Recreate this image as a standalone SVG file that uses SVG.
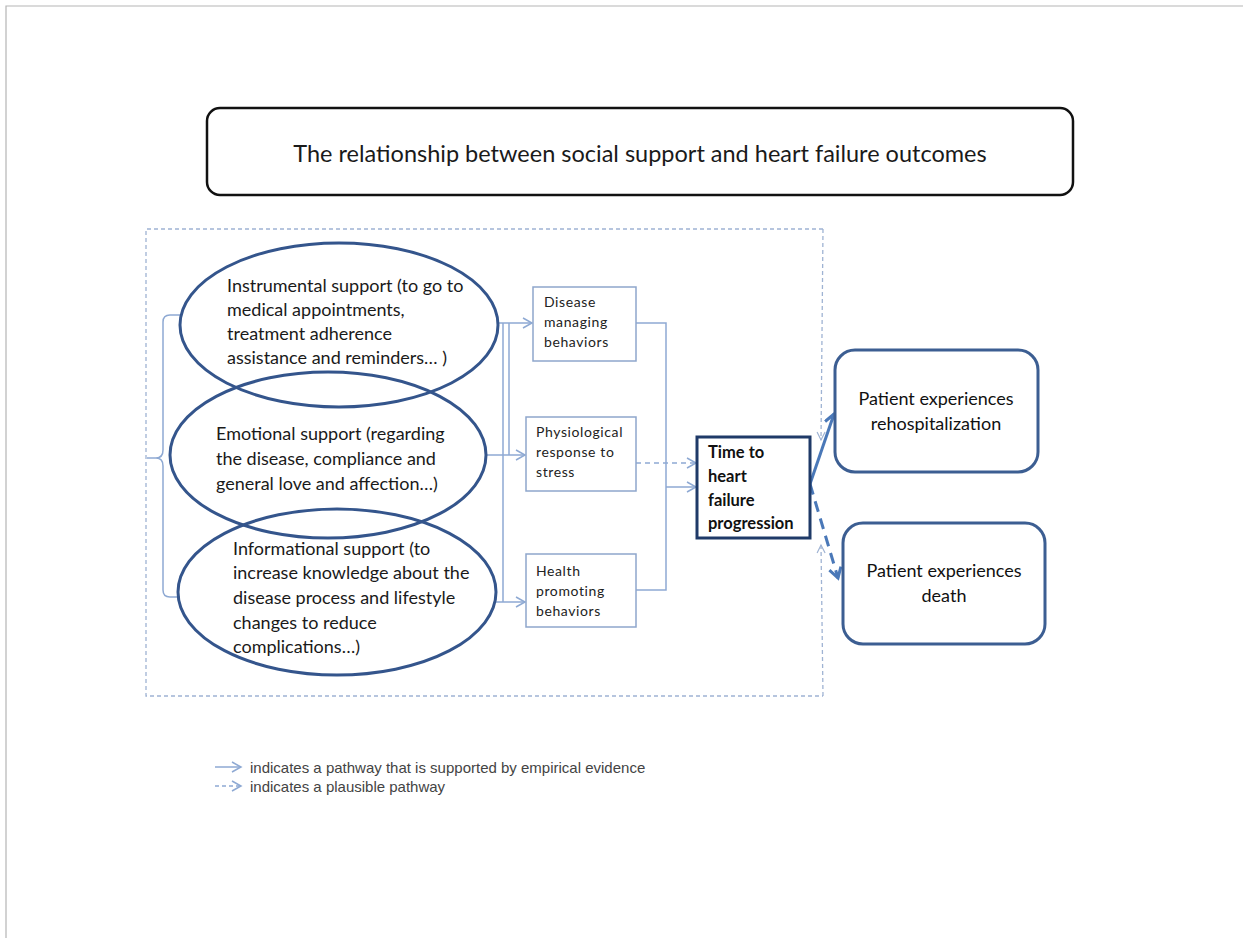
<svg xmlns="http://www.w3.org/2000/svg" width="1243" height="938" viewBox="0 0 1243 938">
  <style>
    .ttl { font-family: Lato, "Liberation Sans", sans-serif; font-size: 23.5px; fill: #1a1a1a; }
    .ell { fill: none; stroke: #34558c; stroke-width: 3; }
    .etx { font-family: Lato, "Liberation Sans", sans-serif; font-size: 18px; fill: #1a1a1a; }
    .box { fill: #ffffff; stroke: #8ea6cc; stroke-width: 1.5; }
    .btx { font-family: Lato, "Liberation Sans", sans-serif; font-size: 14px; fill: #222; letter-spacing: 0.6px; }
    .hub { fill: #ffffff; stroke: #1f3a68; stroke-width: 3; }
    .htx { font-family: Lato, "Liberation Sans", sans-serif; font-size: 16.5px; font-weight: bold; fill: #111; }
    .out { fill: #ffffff; stroke: #3c5e92; stroke-width: 3; }
    .otx { font-family: Lato, "Liberation Sans", sans-serif; font-size: 18px; fill: #111; text-anchor: middle; }
    .thin { fill: none; stroke: #8ea9d3; stroke-width: 1.5; }
    .thin-dash { fill: none; stroke: #8ea9d3; stroke-width: 1.5; stroke-dasharray: 5 4; }
    .frame { fill: none; stroke: #9fb3d3; stroke-width: 1.3; stroke-dasharray: 4 3; }
    .bold { fill: none; stroke: #4a78b8; stroke-width: 3; }
    .bold-dash { fill: none; stroke: #4a78b8; stroke-width: 3; stroke-dasharray: 11 7; }
    .leg { font-family: "Liberation Sans", Arial, sans-serif; font-size: 15px; fill: #444; }
  </style>
  <defs>
    <marker id="arr" markerUnits="userSpaceOnUse" markerWidth="14" markerHeight="14" refX="10" refY="6" orient="auto">
      <path d="M1,1 L10,6 L1,11" fill="none" stroke="#8ea9d3" stroke-width="1.5"/>
    </marker>
    <marker id="arrFrame" markerUnits="userSpaceOnUse" markerWidth="14" markerHeight="14" refX="9" refY="5" orient="auto">
      <path d="M1,1 L9,5 L1,9" fill="none" stroke="#9fb3d3" stroke-width="1.2"/>
    </marker>
    <marker id="arrBold" markerUnits="userSpaceOnUse" markerWidth="16" markerHeight="16" refX="11" refY="7" orient="auto">
      <path d="M1,1 L11,7 L1,13" fill="none" stroke="#4a78b8" stroke-width="3"/>
    </marker>
  </defs>

  <!-- page edge -->
  <path d="M6,938 L6,6 L1243,6" fill="none" stroke="#b5b5b5" stroke-width="1.2"/>

  <!-- heading -->
  <g id="title">
    <rect x="207" y="108" width="866" height="87" rx="13" fill="#fff" stroke="#111" stroke-width="2.5"/>
    <text class="ttl" x="640" y="162" text-anchor="middle">The relationship between social support and heart failure outcomes</text>
  </g>

  <!-- connectors -->
  <g id="connectors">
    <!-- dashed frame, right side split into two arrows -->
    <path class="frame" d="M823,229 L146,229 L146,696 L823,696"/>
    <path class="frame" d="M823,229 L821,440" marker-end="url(#arrFrame)"/>
    <path class="frame" d="M823,696 L821,545" marker-end="url(#arrFrame)"/>

    <!-- brace grouping the three supports -->
    <path class="thin" d="M180,315 L170,315 Q163,315 163,322 L163,450 Q163,458 156,458 L147,458 M156,458 Q163,458 163,466 L163,590 Q163,597 170,597 L180,597"/>

    <!-- supports to behaviours -->
    <path class="thin" d="M498,323 L532,323" marker-end="url(#arr)"/>
    <path class="thin" d="M487,455 L525,455" marker-end="url(#arr)"/>
    <path class="thin" d="M495,602 L525,602" marker-end="url(#arr)"/>
    <path class="thin" d="M503,323 L503,602"/>
    <path class="thin" d="M509,323 L509,455"/>

    <!-- behaviours to progression -->
    <path class="thin" d="M636,323 L666,323 L666,590 L636,590"/>
    <path class="thin" d="M666,487 L696,487" marker-end="url(#arr)"/>
    <path class="thin-dash" d="M636,463 L696,463" marker-end="url(#arr)"/>

    <!-- progression to outcomes -->
    <path class="bold" d="M810,484 L834,414" marker-end="url(#arrBold)"/>
    <path class="bold-dash" d="M810,484 L838,578" marker-end="url(#arrBold)"/>
  </g>

  <!-- support types -->
  <g id="instrumental">
    <ellipse class="ell" cx="339" cy="325" rx="159" ry="82"/>
    <text class="etx" x="227" y="292">Instrumental support (to go to</text>
    <text class="etx" x="227" y="316">medical appointments,</text>
    <text class="etx" x="227" y="340">treatment adherence</text>
    <text class="etx" x="227" y="364">assistance and reminders… )</text>
  </g>
  <g id="emotional">
    <ellipse class="ell" cx="328" cy="455" rx="158" ry="83"/>
    <text class="etx" x="216" y="440">Emotional support (regarding</text>
    <text class="etx" x="216" y="465">the disease, compliance and</text>
    <text class="etx" x="216" y="490">general love and affection…)</text>
  </g>
  <g id="informational">
    <ellipse class="ell" cx="337" cy="592" rx="159" ry="83"/>
    <text class="etx" x="233" y="555">Informational support (to</text>
    <text class="etx" x="233" y="579">increase knowledge about the</text>
    <text class="etx" x="233" y="604">disease process and lifestyle</text>
    <text class="etx" x="233" y="629">changes to reduce</text>
    <text class="etx" x="233" y="653">complications…)</text>
  </g>

  <!-- behaviours -->
  <g id="disease-managing">
    <rect class="box" x="533" y="287" width="103" height="74"/>
    <text class="btx" x="544" y="307">Disease</text>
    <text class="btx" x="544" y="327">managing</text>
    <text class="btx" x="544" y="347">behaviors</text>
  </g>
  <g id="physiological">
    <rect class="box" x="526" y="417" width="110" height="74"/>
    <text class="btx" x="536" y="437">Physiological</text>
    <text class="btx" x="536" y="457">response to</text>
    <text class="btx" x="536" y="477">stress</text>
  </g>
  <g id="health-promoting">
    <rect class="box" x="526" y="554" width="110" height="73"/>
    <text class="btx" x="536" y="576">Health</text>
    <text class="btx" x="536" y="596">promoting</text>
    <text class="btx" x="536" y="616">behaviors</text>
  </g>

  <!-- progression -->
  <g id="progression">
    <rect class="hub" x="697" y="437" width="113" height="101"/>
    <text class="htx" x="708" y="458">Time to</text>
    <text class="htx" x="708" y="482">heart</text>
    <text class="htx" x="708" y="506">failure</text>
    <text class="htx" x="708" y="529">progression</text>
  </g>

  <!-- outcomes -->
  <g id="rehospitalization">
    <rect class="out" x="835" y="350" width="203" height="122" rx="20"/>
    <text class="otx" x="936" y="405">Patient experiences</text>
    <text class="otx" x="936" y="430">rehospitalization</text>
  </g>
  <g id="death">
    <rect class="out" x="843" y="523" width="202" height="121" rx="20"/>
    <text class="otx" x="944" y="577">Patient experiences</text>
    <text class="otx" x="944" y="602">death</text>
  </g>

  <!-- key -->
  <g id="legend">
    <path class="thin" d="M215,767 L241,767" marker-end="url(#arr)"/>
    <text class="leg" x="250" y="773">indicates a pathway that is supported by empirical evidence</text>
    <path class="thin-dash" d="M215,786 L241,786" style="stroke-dasharray:4 3" marker-end="url(#arr)"/>
    <text class="leg" x="250" y="792">indicates a plausible pathway</text>
  </g>
</svg>
